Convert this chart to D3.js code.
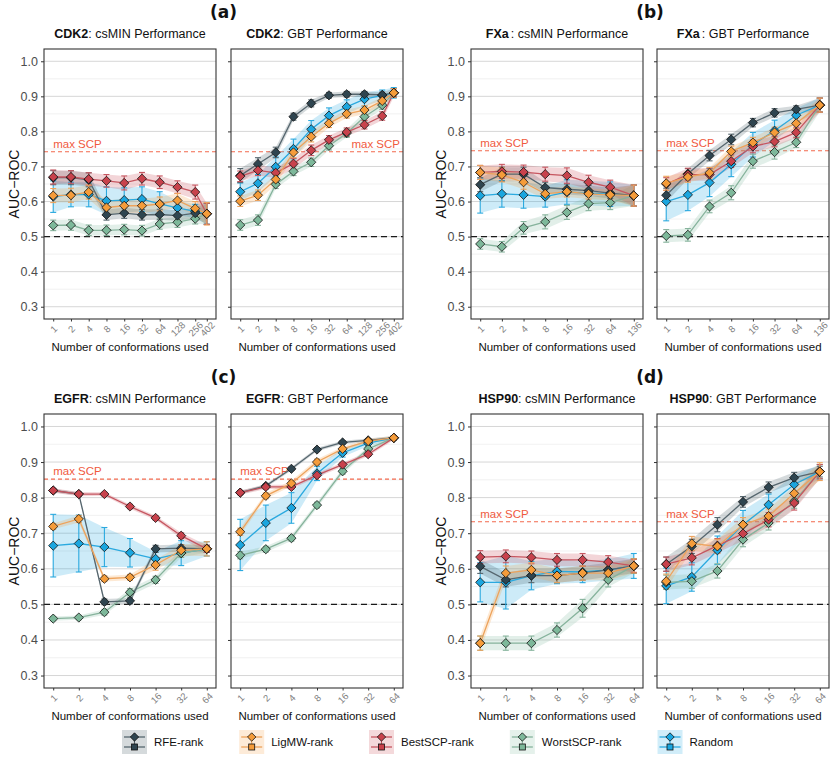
<!DOCTYPE html>
<html>
<head>
<meta charset="utf-8">
<script src="https://cdn.jsdelivr.net/npm/d3@7"></script>
<style>
body { margin: 0; background: #fff; }
text { font-family: "Liberation Sans", Arial, sans-serif; }
</style>
</head>
<body>
<svg id="chart" width="834" height="758"></svg>
<script>
// series, in legend order
const seriesNames = ["RFE-rank", "LigMW-rank", "BestSCP-rank", "WorstSCP-rank", "Random"];
const seriesFill = ["#2f4550", "#f59c3a", "#c8424c", "#7db89a", "#1ba6df"];
const seriesLine = ["#56666e", "#eda35c", "#c65660", "#86b39c", "#2aa9df"];
const drawOrder = [4, 3, 0, 2, 1];

const yTicks = [0.3, 0.4, 0.5, 0.6, 0.7, 0.8, 0.9, 1.0];
const yMinor = [0.35, 0.45, 0.55, 0.65, 0.75, 0.85, 0.95];

const confCDK2 = [1, 2, 4, 8, 16, 32, 64, 128, 256, 402];
const confFXa = [1, 2, 4, 8, 16, 32, 64, 136];
const confEGFR = [1, 2, 4, 8, 16, 32, 64];
const confHSP90 = [1, 2, 4, 8, 16, 32, 64];

const maxScp = [0.742, 0.745, 0.852, 0.732]; // CDK2, FXa, EGFR, HSP90

// rows: RFE, LigMW, BestSCP, WorstSCP, Random
const cdk2MinMean = [
	[0.668, 0.668, 0.662, 0.562, 0.567, 0.562, 0.563, 0.560, 0.567, 0.565],
	[0.617, 0.618, 0.627, 0.583, 0.588, 0.588, 0.593, 0.603, 0.580, 0.565],
	[0.670, 0.670, 0.664, 0.659, 0.653, 0.665, 0.655, 0.641, 0.627, 0.565],
	[0.532, 0.533, 0.518, 0.518, 0.520, 0.517, 0.536, 0.541, 0.551, 0.565],
	[0.614, 0.620, 0.620, 0.602, 0.604, 0.607, 0.593, 0.582, 0.572, 0.565],
];
const cdk2MinErr = [
	[0.020, 0.020, 0.020, 0.015, 0.015, 0.015, 0.015, 0.015, 0.015, 0.030],
	[0.020, 0.020, 0.020, 0.020, 0.020, 0.020, 0.020, 0.020, 0.020, 0.032],
	[0.020, 0.018, 0.018, 0.018, 0.020, 0.018, 0.018, 0.018, 0.020, 0.030],
	[0.015, 0.015, 0.015, 0.015, 0.015, 0.015, 0.015, 0.015, 0.015, 0.030],
	[0.045, 0.035, 0.035, 0.040, 0.035, 0.035, 0.035, 0.020, 0.020, 0.030],
];
const cdk2GbtMean = [
	[0.674, 0.707, 0.740, 0.842, 0.880, 0.903, 0.906, 0.906, 0.904, 0.910],
	[0.601, 0.618, 0.663, 0.740, 0.785, 0.823, 0.850, 0.861, 0.887, 0.910],
	[0.672, 0.689, 0.682, 0.708, 0.746, 0.776, 0.798, 0.819, 0.844, 0.910],
	[0.533, 0.547, 0.649, 0.686, 0.712, 0.759, 0.795, 0.842, 0.875, 0.910],
	[0.628, 0.652, 0.699, 0.750, 0.806, 0.845, 0.870, 0.892, 0.903, 0.910],
];
const cdk2GbtErr = [
	[0.020, 0.018, 0.015, 0.010, 0.010, 0.008, 0.008, 0.008, 0.008, 0.012],
	[0.015, 0.015, 0.015, 0.015, 0.015, 0.012, 0.012, 0.012, 0.012, 0.012],
	[0.015, 0.015, 0.015, 0.015, 0.015, 0.012, 0.012, 0.012, 0.012, 0.012],
	[0.015, 0.015, 0.012, 0.012, 0.012, 0.012, 0.012, 0.012, 0.012, 0.012],
	[0.025, 0.025, 0.028, 0.028, 0.025, 0.022, 0.020, 0.020, 0.015, 0.015],
];
const fxaMinMean = [
	[0.648, 0.678, 0.678, 0.640, 0.635, 0.631, 0.624, 0.617],
	[0.683, 0.676, 0.655, 0.622, 0.628, 0.622, 0.619, 0.617],
	[0.683, 0.686, 0.684, 0.678, 0.674, 0.655, 0.641, 0.617],
	[0.479, 0.471, 0.525, 0.542, 0.569, 0.594, 0.597, 0.617],
	[0.617, 0.622, 0.619, 0.614, 0.627, 0.624, 0.621, 0.617],
];
const fxaMinErr = [
	[0.020, 0.020, 0.020, 0.015, 0.015, 0.015, 0.015, 0.030],
	[0.020, 0.020, 0.020, 0.015, 0.015, 0.015, 0.015, 0.030],
	[0.020, 0.020, 0.020, 0.020, 0.022, 0.020, 0.020, 0.030],
	[0.015, 0.015, 0.018, 0.020, 0.020, 0.020, 0.020, 0.030],
	[0.050, 0.038, 0.038, 0.030, 0.035, 0.035, 0.035, 0.030],
];
const fxaGbtMean = [
	[0.618, 0.679, 0.731, 0.777, 0.825, 0.853, 0.863, 0.875],
	[0.652, 0.670, 0.682, 0.743, 0.768, 0.797, 0.823, 0.875],
	[0.650, 0.677, 0.677, 0.715, 0.757, 0.771, 0.797, 0.875],
	[0.502, 0.505, 0.586, 0.625, 0.715, 0.741, 0.769, 0.875],
	[0.600, 0.619, 0.654, 0.706, 0.762, 0.802, 0.846, 0.875],
];
const fxaGbtErr = [
	[0.020, 0.015, 0.015, 0.015, 0.012, 0.012, 0.010, 0.020],
	[0.020, 0.015, 0.015, 0.015, 0.015, 0.015, 0.015, 0.020],
	[0.018, 0.018, 0.018, 0.018, 0.018, 0.015, 0.015, 0.020],
	[0.018, 0.018, 0.018, 0.020, 0.020, 0.020, 0.015, 0.020],
	[0.055, 0.045, 0.040, 0.035, 0.035, 0.030, 0.020, 0.020],
];
const egfrMinMean = [
	[0.820, 0.810, 0.507, 0.510, 0.656, 0.658, 0.656],
	[0.719, 0.740, 0.572, 0.576, 0.611, 0.652, 0.656],
	[0.820, 0.810, 0.810, 0.775, 0.743, 0.693, 0.656],
	[0.460, 0.463, 0.478, 0.534, 0.569, 0.644, 0.656],
	[0.665, 0.671, 0.661, 0.645, 0.628, 0.644, 0.656],
];
const egfrMinErr = [
	[0.005, 0.005, 0.008, 0.008, 0.010, 0.010, 0.010],
	[0.008, 0.010, 0.008, 0.008, 0.015, 0.015, 0.020],
	[0.006, 0.006, 0.005, 0.006, 0.006, 0.008, 0.010],
	[0.006, 0.006, 0.008, 0.010, 0.010, 0.012, 0.010],
	[0.088, 0.080, 0.055, 0.040, 0.020, 0.035, 0.020],
];
const egfrGbtMean = [
	[0.814, 0.833, 0.881, 0.935, 0.955, 0.961, 0.968],
	[0.704, 0.805, 0.840, 0.900, 0.937, 0.959, 0.968],
	[0.814, 0.830, 0.830, 0.863, 0.893, 0.922, 0.968],
	[0.638, 0.655, 0.686, 0.779, 0.874, 0.937, 0.968],
	[0.667, 0.729, 0.771, 0.868, 0.926, 0.953, 0.968],
];
const egfrGbtErr = [
	[0.005, 0.005, 0.005, 0.005, 0.005, 0.005, 0.005],
	[0.010, 0.008, 0.008, 0.008, 0.006, 0.006, 0.006],
	[0.006, 0.006, 0.006, 0.006, 0.006, 0.006, 0.006],
	[0.010, 0.008, 0.008, 0.008, 0.008, 0.006, 0.006],
	[0.072, 0.050, 0.043, 0.020, 0.012, 0.008, 0.005],
];
const hspMinMean = [
	[0.607, 0.569, 0.581, 0.581, 0.588, 0.597, 0.608],
	[0.391, 0.588, 0.597, 0.581, 0.588, 0.588, 0.608],
	[0.633, 0.635, 0.632, 0.625, 0.625, 0.619, 0.608],
	[0.391, 0.391, 0.391, 0.428, 0.489, 0.569, 0.608],
	[0.562, 0.562, 0.581, 0.593, 0.591, 0.597, 0.608],
];
const hspMinErr = [
	[0.020, 0.020, 0.020, 0.020, 0.020, 0.020, 0.020],
	[0.020, 0.020, 0.020, 0.020, 0.020, 0.020, 0.020],
	[0.018, 0.018, 0.018, 0.018, 0.018, 0.018, 0.018],
	[0.020, 0.020, 0.020, 0.020, 0.025, 0.020, 0.020],
	[0.055, 0.075, 0.040, 0.035, 0.030, 0.030, 0.035],
];
const hspGbtMean = [
	[0.613, 0.663, 0.724, 0.788, 0.829, 0.856, 0.873],
	[0.565, 0.671, 0.663, 0.724, 0.748, 0.812, 0.873],
	[0.613, 0.631, 0.665, 0.699, 0.738, 0.785, 0.873],
	[0.562, 0.565, 0.594, 0.682, 0.729, 0.790, 0.873],
	[0.552, 0.577, 0.652, 0.724, 0.780, 0.837, 0.873],
];
const hspGbtErr = [
	[0.020, 0.020, 0.020, 0.015, 0.015, 0.015, 0.015],
	[0.020, 0.020, 0.020, 0.020, 0.020, 0.020, 0.025],
	[0.020, 0.020, 0.020, 0.020, 0.020, 0.020, 0.020],
	[0.020, 0.020, 0.020, 0.020, 0.020, 0.020, 0.020],
	[0.050, 0.040, 0.040, 0.040, 0.030, 0.025, 0.020],
];

const panelW = 172;
const rows = [{ top: 49, bottom: 319 }, { top: 414, bottom: 688 }];

const panels = [
	{ target: "CDK2", method: "csMIN", x0: 44, row: 0, conf: confCDK2, mean: cdk2MinMean, err: cdk2MinErr, scp: maxScp[0], yLabels: true },
	{ target: "CDK2", method: "GBT", x0: 231, row: 0, conf: confCDK2, mean: cdk2GbtMean, err: cdk2GbtErr, scp: maxScp[0], scpRight: true },
	{ target: "FXa", method: "csMIN", x0: 471, row: 0, conf: confFXa, mean: fxaMinMean, err: fxaMinErr, scp: maxScp[1], yLabels: true },
	{ target: "FXa", method: "GBT", x0: 657, row: 0, conf: confFXa, mean: fxaGbtMean, err: fxaGbtErr, scp: maxScp[1] },
	{ target: "EGFR", method: "csMIN", x0: 44, row: 1, conf: confEGFR, mean: egfrMinMean, err: egfrMinErr, scp: maxScp[2], yLabels: true },
	{ target: "EGFR", method: "GBT", x0: 231, row: 1, conf: confEGFR, mean: egfrGbtMean, err: egfrGbtErr, scp: maxScp[2] },
	{ target: "HSP90", method: "csMIN", x0: 471, row: 1, conf: confHSP90, mean: hspMinMean, err: hspMinErr, scp: maxScp[3], yLabels: true },
	{ target: "HSP90", method: "GBT", x0: 657, row: 1, conf: confHSP90, mean: hspGbtMean, err: hspGbtErr, scp: maxScp[3] },
];

const svg = d3.select("#chart");

function diamondPath(r) {
	return `M0,${-r}L${r},0L0,${r}L${-r},0Z`;
}

function drawPanel(p) {
	const r = rows[p.row];
	const xmax = Math.log2(d3.max(p.conf));
	const pad = xmax * 0.06;
	const x = d3.scaleLinear().domain([-pad, xmax + pad]).range([p.x0, p.x0 + panelW]);
	const y = d3.scaleLinear().domain([0.265, 1.035]).range([r.bottom, r.top]);
	const g = svg.append("g");

	// grid
	g.selectAll(".minor").data(yMinor).enter().append("line")
		.attr("x1", p.x0).attr("x2", p.x0 + panelW)
		.attr("y1", (d) => y(d)).attr("y2", (d) => y(d))
		.attr("stroke", "#ededed").attr("stroke-width", 0.8);
	g.selectAll(".major").data(yTicks).enter().append("line")
		.attr("x1", p.x0).attr("x2", p.x0 + panelW)
		.attr("y1", (d) => y(d)).attr("y2", (d) => y(d))
		.attr("stroke", "#d6d6d6").attr("stroke-width", 1);

	// reference lines
	g.append("line")
		.attr("x1", p.x0).attr("x2", p.x0 + panelW)
		.attr("y1", y(0.5)).attr("y2", y(0.5))
		.attr("stroke", "#1a1a1a").attr("stroke-width", 1.4)
		.attr("stroke-dasharray", "6,4");
	g.append("line")
		.attr("x1", p.x0).attr("x2", p.x0 + panelW)
		.attr("y1", y(p.scp)).attr("y2", y(p.scp))
		.attr("stroke", "#f2694e").attr("stroke-width", 1.1)
		.attr("stroke-dasharray", "4,3");
	g.append("text")
		.attr("x", p.scpRight ? p.x0 + panelW - 3 : x(0))
		.attr("y", y(p.scp) - 4)
		.attr("text-anchor", p.scpRight ? "end" : "start")
		.attr("font-size", 11.5)
		.attr("fill", "#f05a3e")
		.text("max SCP");

	const pts = (si) => p.conf.map((c, i) => ({ lx: Math.log2(c), v: p.mean[si][i], e: p.err[si][i] }));

	const area = d3.area().x((d) => x(d.lx)).y0((d) => y(d.v - d.e)).y1((d) => y(d.v + d.e));
	const line = d3.line().x((d) => x(d.lx)).y((d) => y(d.v));

	drawOrder.forEach((si) => {
		g.append("path").attr("d", area(pts(si)))
			.attr("fill", seriesFill[si]).attr("fill-opacity", si === 0 ? 0.2 : 0.22);
	});
	drawOrder.forEach((si) => {
		g.append("path").attr("d", line(pts(si)))
			.attr("fill", "none").attr("stroke", seriesLine[si]).attr("stroke-width", 1.3);
	});
	drawOrder.forEach((si) => {
		const eb = g.append("g").attr("stroke", seriesLine[si]).attr("stroke-width", 1.1);
		pts(si).forEach((d) => {
			const cx = x(d.lx);
			eb.append("line").attr("x1", cx).attr("x2", cx).attr("y1", y(d.v - d.e)).attr("y2", y(d.v + d.e));
			eb.append("line").attr("x1", cx - 3).attr("x2", cx + 3).attr("y1", y(d.v - d.e)).attr("y2", y(d.v - d.e));
			eb.append("line").attr("x1", cx - 3).attr("x2", cx + 3).attr("y1", y(d.v + d.e)).attr("y2", y(d.v + d.e));
		});
	});
	drawOrder.forEach((si) => {
		g.selectAll(null).data(pts(si)).enter().append("path")
			.attr("d", diamondPath(4.6))
			.attr("transform", (d) => `translate(${x(d.lx)},${y(d.v)})`)
			.attr("fill", seriesFill[si])
			.attr("stroke", "#111").attr("stroke-width", 0.8);
	});

	// border
	g.append("rect").attr("x", p.x0).attr("y", r.top)
		.attr("width", panelW).attr("height", r.bottom - r.top)
		.attr("fill", "none").attr("stroke", "#333").attr("stroke-width", 1.1);

	// y axis
	const yAxis = g.append("g").attr("transform", `translate(${p.x0},0)`)
		.call(d3.axisLeft(y).tickValues(yTicks).tickSize(3).tickPadding(3)
			.tickFormat(p.yLabels ? d3.format(".1f") : ""));
	yAxis.select(".domain").remove();
	yAxis.selectAll("line").attr("stroke", "#333");
	yAxis.selectAll("text").attr("font-size", 12.5).attr("fill", "#4d4d4d")
		.style("font-family", "Liberation Sans, Arial, sans-serif");

	// x axis
	const xAxis = g.append("g").attr("transform", `translate(0,${r.bottom})`)
		.call(d3.axisBottom(x).tickValues(p.conf.map((c) => Math.log2(c)))
			.tickSize(2.5).tickFormat((d) => String(Math.round(Math.pow(2, d)))));
	xAxis.select(".domain").remove();
	xAxis.selectAll("line").attr("stroke", "#333");
	xAxis.selectAll("text")
		.attr("y", 0).attr("dy", null)
		.attr("text-anchor", "middle").attr("dominant-baseline", "central")
		.attr("transform", "translate(0,10) rotate(-45)")
		.attr("font-size", 9.5).attr("fill", "#808080")
		.style("font-family", "Liberation Sans, Arial, sans-serif");

	g.append("text")
		.attr("x", p.x0 + panelW / 2).attr("y", r.bottom + 32)
		.attr("text-anchor", "middle").attr("font-size", 11.5).attr("fill", "#111")
		.text("Number of conformations used");

	const t = g.append("text")
		.attr("x", p.x0 + panelW / 2).attr("y", r.top - 11)
		.attr("text-anchor", "middle").attr("font-size", 12.5).attr("fill", "#111");
	t.append("tspan").attr("font-weight", "bold").text(p.target);
	t.append("tspan").attr("dx", p.target === "FXa" ? 2 : 0).text(`: ${p.method} Performance`);

	if (p.yLabels) {
		g.append("text")
			.attr("transform", `translate(${p.x0 - 30},${(r.top + r.bottom) / 2}) rotate(-90)`)
			.attr("text-anchor", "middle").attr("dominant-baseline", "central")
			.attr("font-size", 14).attr("fill", "#111")
			.text("AUC\u2212ROC");
	}
}

panels.forEach(drawPanel);

// group letters
const letters = [
	{ t: "(a)", x: 223.5, y: 18 },
	{ t: "(b)", x: 650, y: 18 },
	{ t: "(c)", x: 223.5, y: 383 },
	{ t: "(d)", x: 650, y: 383 },
];
svg.selectAll(".letter").data(letters).enter().append("text")
	.attr("x", (d) => d.x).attr("y", (d) => d.y)
	.attr("text-anchor", "middle").attr("font-size", 17).attr("font-weight", "bold")
	.style("font-family", "DejaVu Sans, sans-serif").attr("fill", "#111")
	.text((d) => d.t);

// legend
let lx = 122;
const ly = 742;
seriesNames.forEach((name, si) => {
	const g = svg.append("g").attr("transform", `translate(${lx},${ly})`);
	g.append("rect").attr("x", 0).attr("y", -12).attr("width", 25).attr("height", 24)
		.attr("fill", seriesFill[si]).attr("fill-opacity", 0.2);
	[-5, 5].forEach((dy) => {
		g.append("line").attr("x1", 2).attr("x2", 23).attr("y1", dy).attr("y2", dy)
			.attr("stroke", seriesLine[si]).attr("stroke-width", 1.3);
	});
	g.append("line").attr("x1", 12.5).attr("x2", 12.5).attr("y1", -9).attr("y2", 8)
		.attr("stroke", seriesLine[si]).attr("stroke-width", 1.1);
	g.append("path").attr("d", diamondPath(4.2)).attr("transform", "translate(12.5,-5)")
		.attr("fill", seriesFill[si]).attr("stroke", "#111").attr("stroke-width", 0.8);
	g.append("rect").attr("x", 9.5).attr("y", 2).attr("width", 6).attr("height", 6)
		.attr("fill", seriesFill[si]).attr("stroke", "#111").attr("stroke-width", 0.8);
	const txt = g.append("text").attr("x", 32).attr("y", 0).attr("dominant-baseline", "central")
		.attr("font-size", 11.5).attr("fill", "#111").text(name);
	lx += 32 + txt.node().getComputedTextLength() + 36;
});
</script>
</body>
</html>
